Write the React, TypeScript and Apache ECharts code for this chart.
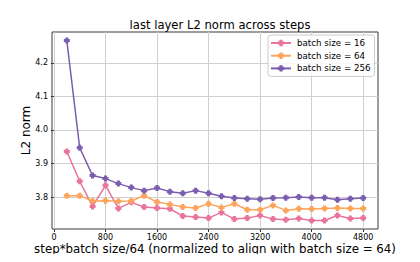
import React, { useEffect, useRef } from "react";
import * as echarts from "echarts";

const steps = [200, 400, 600, 800, 1000, 1200, 1400, 1600, 1800, 2000, 2200, 2400, 2600, 2800, 3000, 3200, 3400, 3600, 3800, 4000, 4200, 4400, 4600, 4800];
const bs16 = [3.936, 3.847, 3.772, 3.835, 3.766, 3.784, 3.770, 3.767, 3.765, 3.743, 3.740, 3.737, 3.754, 3.734, 3.737, 3.745, 3.734, 3.732, 3.736, 3.730, 3.730, 3.745, 3.736, 3.737];
const bs64 = [3.804, 3.804, 3.788, 3.789, 3.787, 3.788, 3.804, 3.785, 3.778, 3.770, 3.767, 3.780, 3.769, 3.780, 3.762, 3.762, 3.775, 3.760, 3.765, 3.764, 3.766, 3.767, 3.766, 3.766];
const bs256 = [4.267, 3.947, 3.864, 3.855, 3.840, 3.828, 3.819, 3.827, 3.816, 3.811, 3.819, 3.811, 3.802, 3.797, 3.795, 3.793, 3.797, 3.798, 3.800, 3.798, 3.798, 3.792, 3.795, 3.797];
const seriesNames = ["batch size = 16", "batch size = 64", "batch size = 256"];
const xTicks = [0, 800, 1600, 2400, 3200, 4000, 4800];
const yTicks = [3.8, 3.9, 4.0, 4.1, 4.2];

const colors = ["#e8739c", "#fda45c", "#7b5db0"];
const FONT = "DejaVu Sans";
const plus = "path://M1,0H3V1H4V3H3V4H1V3H0V1H1Z";

export default function App() {
  const ref = useRef<HTMLDivElement>(null);
  useEffect(() => {
    if (!ref.current) return;
    const chart = echarts.init(ref.current, undefined, { renderer: "svg" });
    const all = [bs16, bs64, bs256];
    chart.setOption({
      animation: false,
      textStyle: { fontFamily: FONT },
      title: {
        text: "last layer L2 norm across steps",
        left: 215,
        textAlign: "center",
        top: 14,
        textStyle: { fontFamily: FONT, fontSize: 11.6, fontWeight: "normal", color: "#000" },
      },
      legend: {
        orient: "vertical",
        left: 268,
        top: 35,
        padding: [3, 4, 3, 2],
        itemWidth: 20,
        itemHeight: 8,
        itemGap: 2.7,
        backgroundColor: "rgba(255,255,255,0.8)",
        borderColor: "#cccccc",
        borderWidth: 1,
        borderRadius: 3,
        textStyle: { fontFamily: FONT, fontSize: 8.7, color: "#000", lineHeight: 10, padding: [0, 0, 0, 1] },
        data: seriesNames,
      },
      grid: {
        left: 52,
        right: 42,
        top: 32,
        bottom: 33,
        show: true,
        borderColor: "#3a3a3a",
        borderWidth: 1,
        backgroundColor: "transparent",
      },
      xAxis: {
        type: "value",
        min: -30,
        max: 5030,
        name: "step*batch size/64 (normalized to align with batch size = 64)",
        nameLocation: "middle",
        nameGap: 14,
        nameMoveOverlap: false,
        nameTextStyle: { fontFamily: FONT, fontSize: 11.8, color: "#000" },
        axisLine: { show: false },
        axisTick: { show: true, length: 3, lineStyle: { color: "#333" }, customValues: xTicks },
        axisLabel: {
          customValues: xTicks,
          fontFamily: FONT,
          fontSize: 8,
          color: "#000",
          margin: 4,
          formatter: (v: number) => String(v),
        },
        splitLine: { show: true, lineStyle: { color: "#d0d0d0", width: 1 } },
      },
      yAxis: {
        type: "value",
        min: 3.7045,
        max: 4.2925,
        name: "L2 norm",
        nameLocation: "middle",
        nameGap: 20,
        nameMoveOverlap: false,
        nameTextStyle: { fontFamily: FONT, fontSize: 12, color: "#000" },
        axisLine: { show: false },
        axisTick: { show: true, length: 3, lineStyle: { color: "#333" }, customValues: yTicks },
        axisLabel: {
          customValues: yTicks,
          fontFamily: FONT,
          fontSize: 8,
          color: "#000",
          margin: 4,
          formatter: (v: number) => v.toFixed(1),
        },
        splitLine: { show: true, lineStyle: { color: "#d0d0d0", width: 1 } },
      },
      series: seriesNames.map((name, i) => ({
        name,
        type: "line",
        data: steps.map((s, j) => [s, all[i][j]]),
        color: colors[i],
        symbol: plus,
        symbolSize: 6,
        showSymbol: true,
        lineStyle: { width: 1.5, color: colors[i] },
        itemStyle: { color: colors[i] },
        z: 3 + i,
      })),
    });
    return () => chart.dispose();
  }, []);
  return <div ref={ref} style={{ width: 420, height: 262, margin: -8 }} />;
}
